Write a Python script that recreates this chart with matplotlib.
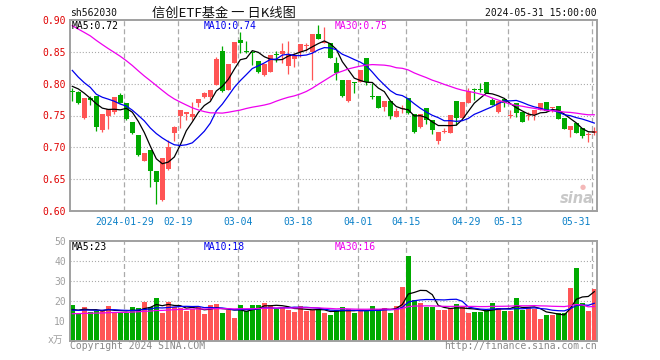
import matplotlib
matplotlib.use("Agg")
import matplotlib.pyplot as plt
import matplotlib.transforms as mtransforms
import numpy as np
import pandas as pd

# ---------------- data ----------------
trade_days = {
    1: [16, 17, 18, 19, 22, 23, 24, 25, 26, 29, 30, 31],
    2: [1, 2, 5, 6, 7, 8, 19, 20, 21, 22, 23, 26, 27, 28, 29],
    3: [1, 4, 5, 6, 7, 8, 11, 12, 13, 14, 15, 18, 19, 20, 21, 22, 25, 26, 27, 28, 29],
    4: [1, 2, 3, 8, 9, 10, 11, 12, 15, 16, 17, 18, 19, 22, 23, 24, 25, 26, 29, 30],
    5: [6, 7, 8, 9, 10, 13, 14, 15, 16, 17, 20, 21, 22, 23, 24, 27, 28, 29, 30, 31],
}
dates = [f"2024-{m:02d}-{d:02d}" for m, ds in trade_days.items() for d in ds]

open_ = [0.788, 0.787, 0.746, 0.778, 0.780, 0.727, 0.7492, 0.756, 0.7822, 0.7691,
         0.7398, 0.7194, 0.6785, 0.6958, 0.6628, 0.6173, 0.666, 0.722, 0.7492, 0.7524,
         0.7482, 0.7691, 0.7785, 0.7785, 0.7979, 0.8513, 0.7901, 0.8319, 0.8686, 0.8503,
         0.8497, 0.8356, 0.8136, 0.8178, 0.8455, 0.8461, 0.8283, 0.8382, 0.8492, 0.8586,
         0.8503, 0.878, 0.8644, 0.8634, 0.8319, 0.8058, 0.7728, 0.802, 0.8026, 0.8398,
         0.779, 0.7806, 0.7639, 0.7733, 0.7482, 0.7608, 0.777, 0.7518, 0.7325, 0.7613,
         0.7429, 0.7105, 0.724, 0.723, 0.7728, 0.7456, 0.7702, 0.7905, 0.7915, 0.8021,
         0.7744, 0.755, 0.7754, 0.7488, 0.7691, 0.756, 0.749, 0.7508, 0.7587, 0.7707,
         0.762, 0.7649, 0.7466, 0.7272, 0.7388, 0.7298, 0.719, 0.722]
high = [0.793, 0.788, 0.778, 0.781, 0.780, 0.7524, 0.7597, 0.7796, 0.7859, 0.7691,
        0.7398, 0.7194, 0.6916, 0.6958, 0.6628, 0.6832, 0.7115, 0.7335, 0.7586, 0.756,
        0.7717, 0.7754, 0.787, 0.7901, 0.8414, 0.8592, 0.8309, 0.8654, 0.8812, 0.8675,
        0.852, 0.8356, 0.8309, 0.845, 0.8518, 0.8634, 0.8675, 0.8476, 0.8623, 0.8634,
        0.878, 0.8921, 0.8895, 0.8634, 0.8424, 0.8058, 0.8058, 0.802, 0.8215, 0.8398,
        0.8005, 0.7806, 0.7733, 0.7733, 0.7623, 0.7665, 0.777, 0.7518, 0.7518, 0.7613,
        0.7429, 0.7246, 0.7298, 0.7508, 0.7728, 0.7717, 0.7927, 0.7927, 0.8005, 0.8021,
        0.778, 0.7733, 0.7754, 0.7587, 0.7691, 0.756, 0.756, 0.7587, 0.7691, 0.7707,
        0.7639, 0.7649, 0.7466, 0.734, 0.7388, 0.7298, 0.7246, 0.7325]
low = [0.773, 0.768, 0.745, 0.767, 0.726, 0.7246, 0.7293, 0.7524, 0.7691, 0.7429,
       0.721, 0.6864, 0.6785, 0.6382, 0.6105, 0.615, 0.6644, 0.7105, 0.7298, 0.7429,
       0.7429, 0.7628, 0.778, 0.7743, 0.7979, 0.7875, 0.7901, 0.8319, 0.8476, 0.8476,
       0.8293, 0.8162, 0.812, 0.8178, 0.8346, 0.8319, 0.8152, 0.8267, 0.8424, 0.8518,
       0.8058, 0.8702, 0.8634, 0.8398, 0.8058, 0.7796, 0.7717, 0.7859, 0.802, 0.7979,
       0.7754, 0.7618, 0.7576, 0.744, 0.7471, 0.7534, 0.7524, 0.722, 0.7309, 0.737,
       0.721, 0.7047, 0.722, 0.722, 0.7351, 0.7456, 0.7702, 0.7738, 0.7874, 0.7848,
       0.7665, 0.754, 0.7639, 0.7456, 0.7482, 0.7403, 0.7429, 0.7429, 0.7587, 0.7571,
       0.756, 0.744, 0.7283, 0.7168, 0.723, 0.7152, 0.7089, 0.7194]
close = [0.787, 0.770, 0.778, 0.775, 0.7325, 0.7524, 0.7597, 0.7796, 0.7702, 0.7445,
         0.722, 0.688, 0.6916, 0.6634, 0.645, 0.6832, 0.701, 0.7314, 0.7586, 0.756,
         0.7524, 0.7754, 0.7859, 0.7901, 0.8387, 0.7885, 0.8309, 0.8654, 0.8644, 0.8498,
         0.8487, 0.8178, 0.8309, 0.845, 0.8445, 0.8513, 0.845, 0.845, 0.8623, 0.8592,
         0.878, 0.8702, 0.866, 0.8398, 0.8162, 0.7806, 0.8058, 0.801, 0.8215, 0.8026,
         0.7785, 0.7618, 0.7733, 0.7492, 0.7576, 0.7613, 0.7534, 0.7246, 0.7518, 0.7429,
         0.7272, 0.7246, 0.7246, 0.7508, 0.7466, 0.7717, 0.7885, 0.7895, 0.7905, 0.7848,
         0.7665, 0.7733, 0.7691, 0.7495, 0.7534, 0.7403, 0.7495, 0.7587, 0.7691, 0.7571,
         0.7625, 0.744, 0.7283, 0.734, 0.723, 0.7178, 0.7194, 0.7257]
volume = [18.0, 13.5, 16.7, 14.3, 15.0, 15.0, 17.3, 14.3, 13.8, 14.0,
          16.8, 16.3, 19.4, 16.7, 21.3, 13.8, 19.5, 16.8, 16.3, 15.0,
          15.7, 17.0, 13.3, 17.7, 18.5, 13.8, 15.5, 11.3, 18.0, 14.8,
          17.7, 18.0, 18.8, 18.0, 16.0, 16.7, 15.5, 14.3, 17.3, 14.7,
          15.5, 16.0, 13.8, 13.0, 15.3, 16.8, 16.0, 13.8, 14.7, 14.7,
          17.3, 16.0, 16.3, 13.8, 17.3, 27.0, 42.3, 20.3, 18.9, 16.8,
          16.8, 15.3, 15.3, 16.3, 18.3, 16.7, 13.8, 14.3, 14.3, 15.3,
          18.8, 16.3, 15.0, 15.0, 21.3, 15.5, 16.7, 16.0, 10.8, 13.0,
          13.0, 13.7, 14.0, 26.5, 36.3, 18.8, 15.0, 26.0]

# sessions before the first drawn candle (only feed the moving averages)
prior_close = [0.930, 0.936, 0.937, 0.945, 0.950, 0.950, 0.958, 0.955, 0.951, 0.948,
               0.940, 0.934, 0.885, 0.873, 0.912, 0.922, 0.915, 0.905, 0.893, 0.885,
               0.875, 0.866, 0.848, 0.840, 0.800, 0.790, 0.812, 0.815, 0.775]
prior_volume = [12.1, 13.4, 11.8, 12.6, 13.9, 12.2, 11.5, 12.8, 13.1, 12.4,
                11.9, 12.7, 13.6, 12.0, 12.9, 13.3, 11.7, 12.5, 13.0, 12.3,
                14.8, 15.6, 14.2, 15.9, 14.6, 15.3, 14.1, 15.8, 14.9]

tick_dates = ["2024-01-29", "2024-02-19", "2024-03-04", "2024-03-18", "2024-04-01",
              "2024-04-15", "2024-04-29", "2024-05-13", "2024-05-31"]
tick_labels = ["2024-01-29", "02-19", "03-04", "03-18", "04-01",
               "04-15", "04-29", "05-13", "05-31"]
price_ticks = [0.60, 0.65, 0.70, 0.75, 0.80, 0.85, 0.90]
vol_ticks = [10, 20, 30, 40, 50]
ma_windows = [5, 10, 30]
ma_price_text = ["MA5:0.72", "MA10:0.74", "MA30:0.75"]
ma_vol_text = ["MA5:23", "MA10:18", "MA30:16"]

# ---------------- style ----------------
RED = "#FF5555"
GREEN = "#00AA00"
MA_COLORS = ["#000000", "#0000EE", "#EE00EE"]
GRID = "#AAAAAA"
FRAME = "#A0A0A0"
MONO = "DejaVu Sans Mono"
plt.rcParams["lines.scale_dashes"] = False

W, H = 660, 360
fig = plt.figure(figsize=(W / 100, H / 100), dpi=100)
fig.patch.set_facecolor("white")


def fx(px):
    return px / W


def fy(py):
    return 1 - py / H


ax = fig.add_axes([fx(70), fy(211), fx(597) - fx(70), fy(20) - fy(211)])
ax2 = fig.add_axes([fx(70), fy(340.7), fx(597) - fx(70), fy(240.7) - fy(340.7)])

n = len(close)
x = np.arange(n)
o = np.array(open_); h = np.array(high); l = np.array(low); c = np.array(close)
up = c >= o
cols = np.where(up, RED, GREEN)

xlim = (-0.383, 87.45)
tick_idx = [dates.index(d) for d in tick_dates]
grid_x = [i - 0.33 for i in tick_idx]

for a, ylim in ((ax, (0.60, 0.90)), (ax2, (0, 50))):
    a.set_xlim(*xlim)
    a.set_ylim(*ylim)
    a.set_xticks([])
    for s in a.spines.values():
        s.set_color(FRAME)
        s.set_linewidth(1.4)
    for gx in grid_x:
        a.axvline(gx, color=GRID, lw=0.9, ls=(0, (3.6, 2.2)), zorder=0)

for yv in price_ticks[1:-1]:
    ax.axhline(yv, color=GRID, lw=0.8, ls=(0, (0.8, 1.4)), zorder=0)
for yv in vol_ticks[:-1]:
    ax2.axhline(yv, color=GRID, lw=0.8, ls=(0, (0.8, 1.4)), zorder=0)

# watermark (behind data)
ax.text(0.962, 0.065, "sina", transform=ax.transAxes, ha="center", va="center", fontsize=10.5,
        fontweight="bold", style="italic", color="#C8C8C8", family="DejaVu Sans", zorder=1)
ax.text(0.972, 0.125, "●", transform=ax.transAxes, ha="center", va="center", fontsize=5,
        color="#F4B8B8", family="DejaVu Sans", zorder=1)

# candles
body_bottom = np.minimum(o, c)
body_h = np.maximum(np.abs(c - o), 0.0017)
ax.vlines(x, l, h, colors=cols, lw=0.9, zorder=2)
ax.bar(x, body_h, bottom=body_bottom, width=0.8, color=cols, lw=0, zorder=3)

# moving averages (price)
full_close = pd.Series(prior_close + close)
full_vol = pd.Series(prior_volume + volume)
k = len(prior_close)
for w, col in zip(ma_windows, MA_COLORS):
    ma = full_close.rolling(w).mean().values[k:]
    ax.plot(x, ma, color=col, lw=0.9, zorder=4)
    mv = full_vol.rolling(w).mean().values[k:]
    ax2.plot(x, mv, color=col, lw=0.9, zorder=4)

# volume bars
ax2.bar(x, volume, width=0.8, color=cols, lw=0, zorder=2)

# y tick labels
ax.set_yticks(price_ticks)
ax.set_yticklabels([f"{v:.2f}" for v in price_ticks], fontfamily=MONO, fontsize=7, color="#E00000")
ax.tick_params(axis="y", length=0, pad=3)
ax2.set_yticks(vol_ticks)
ax2.set_yticklabels([str(v) for v in vol_ticks], fontfamily=MONO, fontsize=7, color="#A0A0A0")
ax2.tick_params(axis="y", length=0, pad=3)
fig.text(fx(63), fy(340), "x万", ha="right", va="center", fontsize=7,
         family=[MONO, "Noto Sans CJK SC"], color="#A0A0A0")

# x tick labels
tr = mtransforms.blended_transform_factory(ax.transData, fig.transFigure)
for gx, lab in zip(grid_x, tick_labels):
    if lab == tick_labels[-1]:
        ax.text(gx - 0.3, fy(221.7), lab, transform=tr, ha="right", va="center",
                fontfamily=MONO, fontsize=7, color="#0A80C8", clip_on=False)
    else:
        ax.text(gx, fy(221.7), lab, transform=tr, ha="center", va="center",
                fontfamily=MONO, fontsize=7, color="#0A80C8", clip_on=False)

# MA legends
for px, t, col in zip([72, 204, 335], ma_price_text, MA_COLORS):
    fig.text(fx(px), fy(26), t, ha="left", va="center", fontfamily=MONO, fontsize=7, color=col)
for px, t, col in zip([72, 204, 335], ma_vol_text, MA_COLORS):
    fig.text(fx(px), fy(247), t, ha="left", va="center", fontfamily=MONO, fontsize=7, color=col)

# header
fig.text(fx(70), fy(13), "sh562030", ha="left", va="center", fontfamily=MONO, fontsize=7, color="#111111")
fig.text(fx(224), fy(13), "信创ETF基金 一 日K线图", ha="center", va="center",
         family=["Noto Sans CJK SC", "DejaVu Sans"], fontsize=9.5, color="#111111")
fig.text(fx(597), fy(13), "2024-05-31 15:00:00", ha="right", va="center",
         fontfamily=MONO, fontsize=7, color="#111111")

# footer
fig.text(fx(70), fy(346), "Copyright 2024 SINA.COM", ha="left", va="center",
         fontfamily=MONO, fontsize=7, color="#888888")
fig.text(fx(597), fy(346), "http://finance.sina.com.cn", ha="right", va="center",
         fontfamily=MONO, fontsize=7, color="#888888")

fig.savefig("out.png", dpi=100, facecolor="white")
